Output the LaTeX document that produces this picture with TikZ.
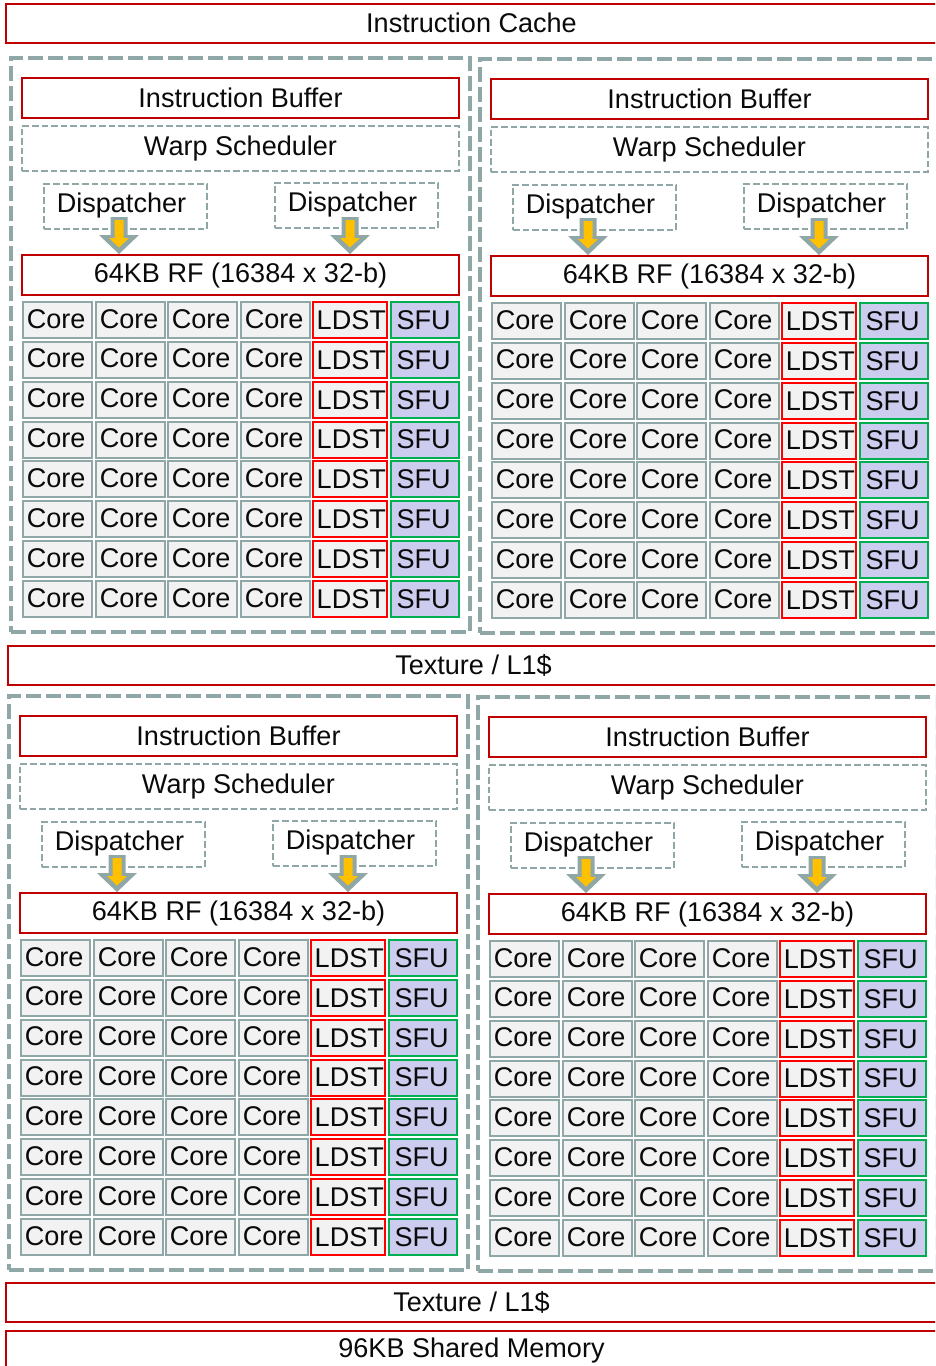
\documentclass[tikz,border=0pt]{standalone}
\usepackage{fontspec}
\setmainfont{Liberation Sans}
\definecolor{dred}{HTML}{C00000}
\definecolor{bred}{HTML}{FF0000}
\definecolor{sgreen}{HTML}{00B050}
\definecolor{sgray}{HTML}{8FA7A7}
\definecolor{cgray}{HTML}{F2F2F2}
\definecolor{sfufill}{HTML}{CCCCEE}
\definecolor{agold}{HTML}{FFC000}
\definecolor{txt}{HTML}{0A0A0A}
\tikzset{
  base/.style={inner sep=0pt, outer sep=0pt, text=txt, font=\fontsize{20.3}{24}\selectfont},
  redbox/.style={base, draw=dred, line width=2.2pt, fill=white},
  dashbox/.style={base, draw=sgray, line width=1.1pt, dash pattern=on 5pt off 2.2pt},
  smbox/.style={base, draw=sgray, line width=3.3pt, dash pattern=on 11pt off 4pt},
  corebox/.style={base, draw=sgray, line width=1.5pt, fill=cgray},
  ldstbox/.style={base, draw=bred, line width=1.5pt, fill=cgray},
  sfubox/.style={base, draw=sgreen, line width=1.5pt, fill=sfufill},
  arrowout/.style={fill=sgray},
  arrowin/.style={fill=agold},
}
% block: style, name, x1, y1, x2, y2, text  (pixel coordinates, y downwards)
\newcommand\blk[7]{%
  \node[#1, minimum width={(#5-(#3))*0.75pt}, minimum height={(#6-(#4))*0.75pt}]
    (#2) at ({((#3)+(#5))/2},{((#4)+(#6))/2}) {#7};}
% dispatch arrow centred at x = #1
\newcommand\dsparrow[1]{%
  \fill[arrowout] ({#1-8.5},217) -- ({#1+8.5},217) -- ({#1+8.5},235) -- ({#1+20},235)
    -- (#1,254) -- ({#1-20},235) -- ({#1-8.5},235) -- cycle;
  \fill[arrowin] ({#1-4.5},220) -- ({#1+4.5},220) -- ({#1+4.5},238) -- ({#1+10},238)
    -- (#1,247.5) -- ({#1-10},238) -- ({#1-4.5},238) -- cycle;}
\begin{document}
\begin{tikzpicture}[x=0.75pt,y=-0.75pt]
\useasboundingbox (0,0) rectangle (935,1366);
\clip (0,0) rectangle (935,1366);
\fill[white] (0,0) rectangle (935,1366);

\blk{redbox}{icache}{6}{4}{937}{43}{\raisebox{1.5pt}{Instruction Cache}}
\blk{redbox}{tex1}{8}{646}{939}{685}{Texture / L1\$}
\blk{redbox}{tex2}{6}{1283}{937}{1322}{Texture / L1\$}
\blk{redbox}{smem}{6}{1331}{937}{1370}{\raisebox{2pt}{96KB Shared Memory}}

\foreach \s/\dx/\dy in {a/0/0, b/469/1, c/-2/638, d/467/639}{
  \begin{scope}[shift={(\dx,\dy)}]
    \blk{smbox}{sm\s}{11}{58}{470}{632}{}
    \blk{redbox}{ib\s}{22}{78}{459}{118}{Instruction Buffer}
    \blk{dashbox}{ws\s}{22}{126}{459}{171}{Warp Scheduler}
    \blk{dashbox}{dpa\s}{44}{184}{207}{229}{\hspace*{-6pt}\raisebox{5pt}{Dispatcher}}
    \blk{dashbox}{dpb\s}{275}{183}{438}{228}{\hspace*{-6pt}\raisebox{5pt}{Dispatcher}}
    \dsparrow{119}
    \dsparrow{350}
    \blk{redbox}{rf\s}{22}{255}{459}{295}{\raisebox{1pt}{64KB RF (16384 x 32-b)}}
    \foreach \r in {0,...,7}{
      \pgfmathsetmacro\yt{302+\r*39.86}
      \pgfmathsetmacro\yb{\yt+36}
      \foreach \c/\xa/\xb in {1/23/92, 2/96/165, 3/168/237, 4/241/310}{
        \blk{corebox}{core\s-\r-\c}{\xa}{\yt}{\xb}{\yb}{\hspace*{-2pt}\raisebox{2pt}{Core}}
      }
      \blk{ldstbox}{ldst\s-\r}{313}{\yt}{387}{\yb}{\hspace*{2pt}LDST}
      \blk{sfubox}{sfu\s-\r}{391}{\yt}{459}{\yb}{\hspace*{-2pt}\raisebox{-1pt}{SFU}}
    }
  \end{scope}
}
\end{tikzpicture}
\end{document}
